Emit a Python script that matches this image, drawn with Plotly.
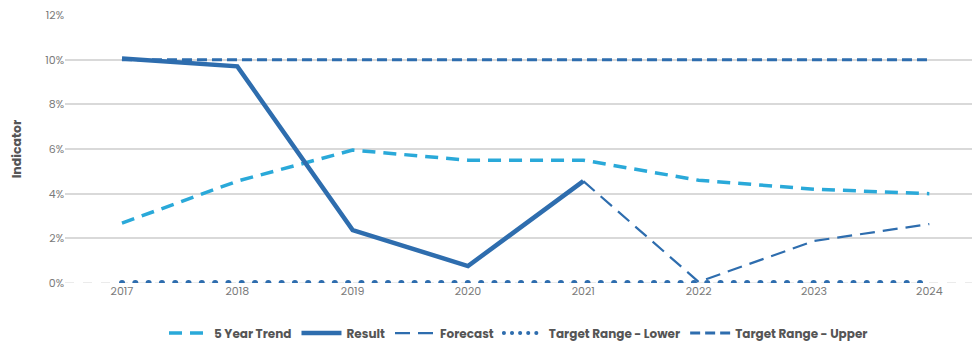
import plotly.graph_objects as go

years = ["2017", "2018", "2019", "2020", "2021", "2022", "2023", "2024"]
trend_5yr = [2.68, 4.56, 5.95, 5.5, 5.5, 4.6, 4.2, 4.0]
result = [10.05, 9.7, 2.37, 0.76, 4.56, None, None, None]
forecast = [None, None, None, None, 4.56, 0.05, 1.88, 2.64]
target_lower = [0, 0, 0, 0, 0, 0, 0, 0]
target_upper = [10, 10, 10, 10, 10, 10, 10, 10]
y_ticks = [0, 2, 4, 6, 8, 10, 12]

LIGHT = "#2aa9d9"
DARK = "#2e6dae"
FONT = "Poppins, Inter, 'Open Sans', sans-serif"

xs = list(range(len(years)))

fig = go.Figure()
fig.add_trace(go.Scatter(x=xs, y=trend_5yr, name="5 Year Trend", mode="lines",
                         line=dict(color=LIGHT, width=3.5, dash="13px,8px")))
fig.add_trace(go.Scatter(x=xs, y=result, name="Result", mode="lines",
                         line=dict(color=DARK, width=4.5)))
fig.add_trace(go.Scatter(x=xs, y=forecast, name="Forecast", mode="lines",
                         line=dict(color=DARK, width=2.2, dash="15px,8px")))
fig.add_trace(go.Scatter(x=xs, y=target_lower, name="Target Range - Lower", mode="lines",
                         line=dict(color=DARK, width=6, dash="0.1px,13.2px")))
fig.add_trace(go.Scatter(x=xs, y=target_upper, name="Target Range - Upper", mode="lines",
                         line=dict(color=DARK, width=3, dash="10px,5px")))

# dashed baseline at 0%
fig.add_shape(type="line", xref="paper", yref="y", x0=0, x1=1, y0=0, y1=0,
              line=dict(color="#d6d6d6", width=1, dash="dash"), layer="below")

fig.update_layout(
    width=972, height=347,
    margin=dict(l=65, r=0, t=15, b=64, autoexpand=False),
    paper_bgcolor="white", plot_bgcolor="white",
    font=dict(family=FONT, color="#7a7a7a", size=11),
    showlegend=True,
    legend=dict(orientation="h", x=0.5, xanchor="center",
                yref="container", y=0.04, yanchor="middle",
                font=dict(size=12, color="#555555", family=FONT, weight="bold"),
                itemwidth=40, tracegroupgap=0),
    xaxis=dict(tickmode="array", tickvals=xs, ticktext=years,
               range=[-0.494, 7.37], showgrid=False, zeroline=False,
               showline=False, ticks="", tickfont=dict(size=11, color="#7a7a7a")),
    yaxis=dict(range=[0, 12], tickvals=y_ticks,
               ticktext=[f"{v}%" for v in y_ticks],
               showgrid=True, gridcolor="#d9d9d9", gridwidth=1.5,
               zeroline=False, showline=False, ticks="",
               tickfont=dict(size=11, color="#7a7a7a"),
               title=dict(text="<b>Indicator</b>", font=dict(size=12.5, color="#555555"),
                          standoff=20)),
)

# round line caps so the dotted target line draws as round dots
round_caps = """
var gd = document.getElementById('{plot_id}');
function roundDots() {
  gd.querySelectorAll('path.js-line').forEach(function (p) {
    var da = p.style.strokeDasharray || '';
    if (da.indexOf('0.1') === 0) {
      p.style.strokeLinecap = 'round';
      if (p.closest('.legend')) {
        p.style.strokeWidth = '4px';
        p.style.strokeDasharray = '0.1px, 8px';
      }
    }
  });
}
roundDots();
gd.on('plotly_afterplot', roundDots);
"""

fig.write_html("out.html", post_script=round_caps)
